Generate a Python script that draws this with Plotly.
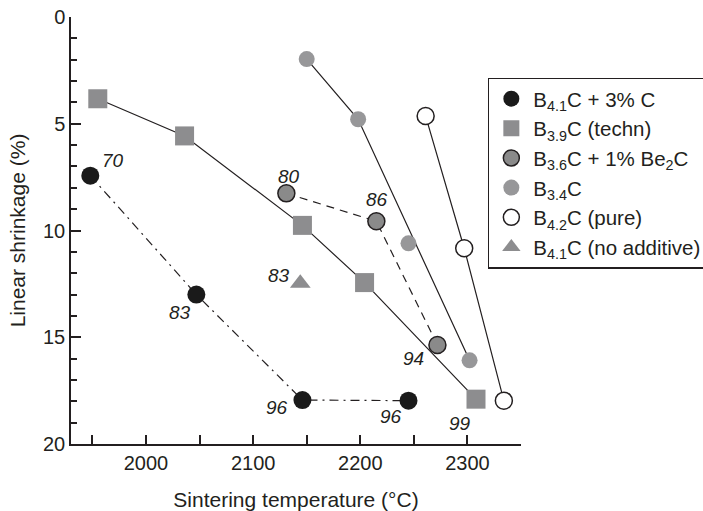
import plotly.graph_objects as go

# Sintering temperature (°C) vs. linear shrinkage (%) for boron carbide grades
t_c3 = [1948, 2047, 2146, 2245]
s_c3 = [7.43, 13.0, 17.94, 17.97]
d_c3 = ["70", "83", "96", "96"]

t_techn = [1955, 2036, 2146, 2204, 2308]
s_techn = [3.83, 5.57, 9.76, 12.44, 17.9]

t_be = [2131, 2215, 2272]
s_be = [8.26, 9.57, 15.36]
d_be = ["80", "86", "94"]

t_b34 = [2150, 2198, 2245, 2302]
s_b34 = [1.97, 4.79, 10.6, 16.08]
# the curve for B3.4C runs through these points only
t_b34_curve = [2150, 2198, 2302]
s_b34_curve = [1.97, 4.79, 16.08]

t_pure = [2261, 2297, 2334]
s_pure = [4.64, 10.83, 17.97]

t_noadd = [2144]
s_noadd = [12.47]
d_noadd = ["83"]

d_techn_last = "99"

# label positions (temperature, shrinkage) for the density numbers
lbl_x = [1969, 2032, 2122, 2229, 2133, 2216, 2250, 2124, 2293]
lbl_y = [6.74, 13.83, 18.28, 18.72, 7.48, 8.57, 15.99, 12.13, 19.03]
lbl_txt = d_c3 + d_be + d_noadd + [d_techn_last]

INK = "#231f20"
GREY = "#8d8d8f"
FONT = "Liberation Sans, Arial, Helvetica, sans-serif"

fig = go.Figure()

# connecting curves (no legend entries)
fig.add_trace(go.Scatter(x=t_c3, y=s_c3, mode="lines", showlegend=False,
                         line=dict(color=INK, width=1.2, dash="9px,5px,2px,5px")))
fig.add_trace(go.Scatter(x=t_techn, y=s_techn, mode="lines", showlegend=False,
                         line=dict(color=INK, width=1.2)))
fig.add_trace(go.Scatter(x=t_be, y=s_be, mode="lines", showlegend=False,
                         line=dict(color=INK, width=1.2, dash="8px,6px")))
fig.add_trace(go.Scatter(x=t_b34_curve, y=s_b34_curve, mode="lines", showlegend=False,
                         line=dict(color=INK, width=1.2)))
fig.add_trace(go.Scatter(x=t_pure, y=s_pure, mode="lines", showlegend=False,
                         line=dict(color=INK, width=1.2)))

# markers
fig.add_trace(go.Scatter(x=t_c3, y=s_c3, mode="markers", name="B<sub>4.1</sub>C + 3% C",
                         marker=dict(symbol="circle", size=18, color="#1a1a1a",
                                     line=dict(width=0))))
fig.add_trace(go.Scatter(x=t_techn, y=s_techn, mode="markers", name="B<sub>3.9</sub>C (techn)",
                         marker=dict(symbol="square", size=19, color=GREY,
                                     line=dict(width=0))))
fig.add_trace(go.Scatter(x=t_be, y=s_be, mode="markers",
                         name="B<sub>3.6</sub>C + 1% Be<sub>2</sub>C",
                         marker=dict(symbol="circle", size=17, color="#8a8a8a",
                                     line=dict(width=1.5, color=INK))))
fig.add_trace(go.Scatter(x=t_b34, y=s_b34, mode="markers", name="B<sub>3.4</sub>C",
                         marker=dict(symbol="circle", size=16, color="#979799",
                                     line=dict(width=0))))
fig.add_trace(go.Scatter(x=t_pure, y=s_pure, mode="markers", name="B<sub>4.2</sub>C (pure)",
                         marker=dict(symbol="circle", size=17, color="white",
                                     line=dict(width=1.5, color=INK))))
fig.add_trace(go.Scatter(x=t_noadd, y=s_noadd, mode="markers",
                         name="B<sub>4.1</sub>C (no additive)",
                         marker=dict(symbol="triangle-up", size=18, color=GREY,
                                     line=dict(width=0))))

for x, y, t in zip(lbl_x, lbl_y, lbl_txt):
    fig.add_annotation(x=x, y=y, text="<i>" + t + "</i>", showarrow=False,
                       font=dict(family=FONT, size=19, color=INK),
                       xanchor="center", yanchor="middle")

fig.update_layout(
    width=703, height=511,
    margin=dict(l=71, r=182, t=17, b=67, autoexpand=False),
    paper_bgcolor="white", plot_bgcolor="white",
    font=dict(family=FONT, size=20, color=INK),
    legend=dict(x=0.927, y=0.858, xanchor="left", yanchor="top",
                bgcolor="white", bordercolor=INK, borderwidth=1.2,
                font=dict(family=FONT, size=20.5, color=INK),
                itemwidth=34, tracegroupgap=0),
    xaxis=dict(range=[1930, 2350], showgrid=False, zeroline=False,
               showline=True, linecolor=INK, linewidth=1.5, automargin=False,
               tickmode="array", tickvals=[2000, 2100, 2200, 2300],
               ticks="inside", ticklen=9, tickwidth=1.5, tickcolor=INK,
               minor=dict(tickmode="array", tickvals=[1950, 2050, 2150, 2250, 2350],
                          ticks="inside", ticklen=9, tickwidth=1.5, tickcolor=INK),
               tickfont=dict(size=20),
               title=dict(text="Sintering temperature (°C)", font=dict(size=21),
                          standoff=22)),
    yaxis=dict(range=[20, 0], showgrid=False, zeroline=False,
               showline=True, linecolor=INK, linewidth=1.5, automargin=False,
               tickmode="array", tickvals=[0, 5, 10, 15, 20],
               ticks="inside", ticklen=10, tickwidth=1.5, tickcolor=INK,
               minor=dict(dtick=1, ticks="inside", ticklen=6, tickwidth=1.5,
                          tickcolor=INK),
               tickfont=dict(size=20),
               title=dict(text="Linear shrinkage (%)", font=dict(size=21),
                          standoff=12)),
)

fig.write_html("out.html")
